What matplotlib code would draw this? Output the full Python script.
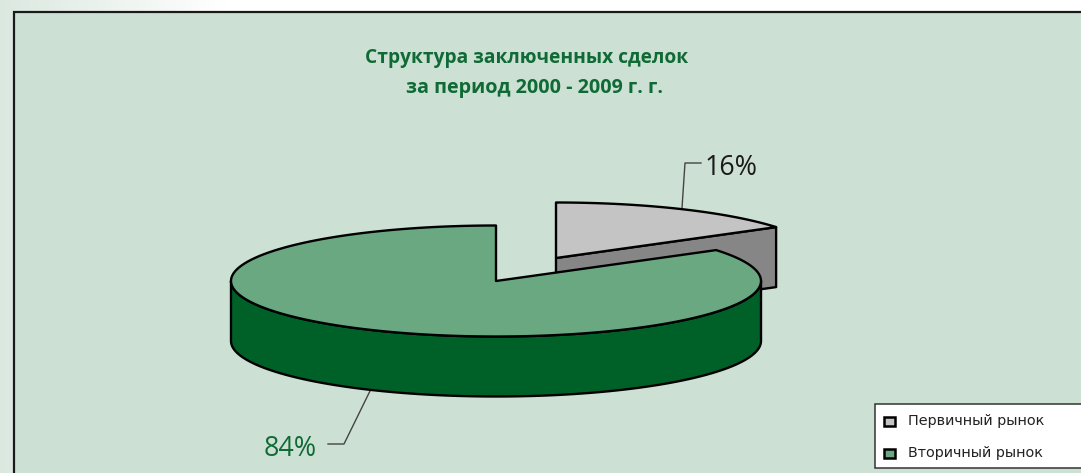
import numpy as np
import matplotlib
matplotlib.use("Agg")
import matplotlib.pyplot as plt
from matplotlib.colors import LinearSegmentedColormap
from matplotlib.patches import Polygon, Rectangle

title_lines = ["Структура заключенных сделок", "за период 2000 - 2009 г. г."]
categories = ["Первичный рынок", "Вторичный рынок"]
shares = [15.6, 84.4]

top_colors = ["#c4c4c4", "#6aa882"]
side_colors = ["#868686", "#006128"]
panel_color = "#cde0d4"
text_green = "#0f6a35"

# pie geometry in pixels
rx, ry, depth = 265, 55.5, 60
cx, cy = 496, 281
dx, dy = 60, -23   # explode offset of the first slice

fig = plt.figure(figsize=(10.81, 4.73), dpi=100)
ax = fig.add_axes([0, 0, 1, 1])
ax.axis("off")

# pale page gradient behind the panel
grad = np.linspace(0, 1, 256).reshape(1, -1)
page_cmap = LinearSegmentedColormap.from_list("page", ["#dbe8e0", "#ffffff"])
ax.imshow(grad, extent=[0, 225, 473, 0], cmap=page_cmap, aspect="auto", zorder=0)
ax.set_xlim(0, 1081)
ax.set_ylim(473, 0)
ax.add_patch(Rectangle((14, 12), 1100, 500, fc=panel_color, ec="#1a1a1a", lw=1.6, zorder=1))


def arc(x0, y0, t0, t1, n=240):
    t = np.radians(np.linspace(t0, t1, n))
    return np.column_stack([x0 + rx * np.cos(t), y0 - ry * np.sin(t)])


def draw_poly(pts, color, z):
    ax.add_patch(Polygon(pts, closed=True, fc=color, ec="black", lw=1.7, joinstyle="round", zorder=z))


cut = 90 - 360 * shares[0] / 100

# first slice, pulled out to the upper right
gx, gy = cx + dx, cy + dy
corner = arc(gx, gy, cut, cut, 1)[0]
draw_poly([(gx, gy), tuple(corner), (corner[0], corner[1] + depth), (gx, gy + depth)], side_colors[0], 2)
draw_poly(np.vstack([[gx, gy], arc(gx, gy, 90, cut)]), top_colors[0], 3)

# second slice
rim = arc(cx, cy, 180, 360)
draw_poly(np.vstack([rim, rim[::-1] + [0, depth]]), side_colors[1], 4)
draw_poly(np.vstack([[cx, cy], arc(cx, cy, 90, 360 + cut)]), top_colors[1], 5)

# labels with leader lines
ax.plot([682, 685, 701], [208, 163, 163], color="#444444", lw=1, zorder=2)
ax.text(705, 167.5, f"{round(shares[0])}%", fontsize=19.4, family="Open Sans", color="#1a1a1a", va="center", ha="left", zorder=6)
ax.plot([370, 344, 328], [391, 444, 444], color="#444444", lw=1, zorder=2)
ax.text(264, 448.5, f"{round(shares[1])}%", fontsize=19.4, family="Open Sans", color=text_green, va="center", ha="left", zorder=6)

# title
ax.text(527, 58, title_lines[0], fontsize=13.8, family="Open Sans", weight="bold", color=text_green, ha="center", va="center", zorder=6)
ax.text(535, 88, title_lines[1], fontsize=14.2, family="Open Sans", weight="bold", color=text_green, ha="center", va="center", zorder=6)

# legend box
ax.add_patch(Rectangle((874.5, 403.5), 220, 64.5, fc="white", ec="#333333", lw=1.1, zorder=6))
for name, color, y in zip(categories, top_colors, [421, 453]):
    ax.add_patch(Rectangle((884, y - 4.5), 11, 9, fc=color, ec="black", lw=1.8, zorder=7))
    ax.text(908, y, name, fontsize=10.4, family="DejaVu Sans", color="#222222", va="center", ha="left", zorder=7)

fig.savefig("out.png", dpi=100)
